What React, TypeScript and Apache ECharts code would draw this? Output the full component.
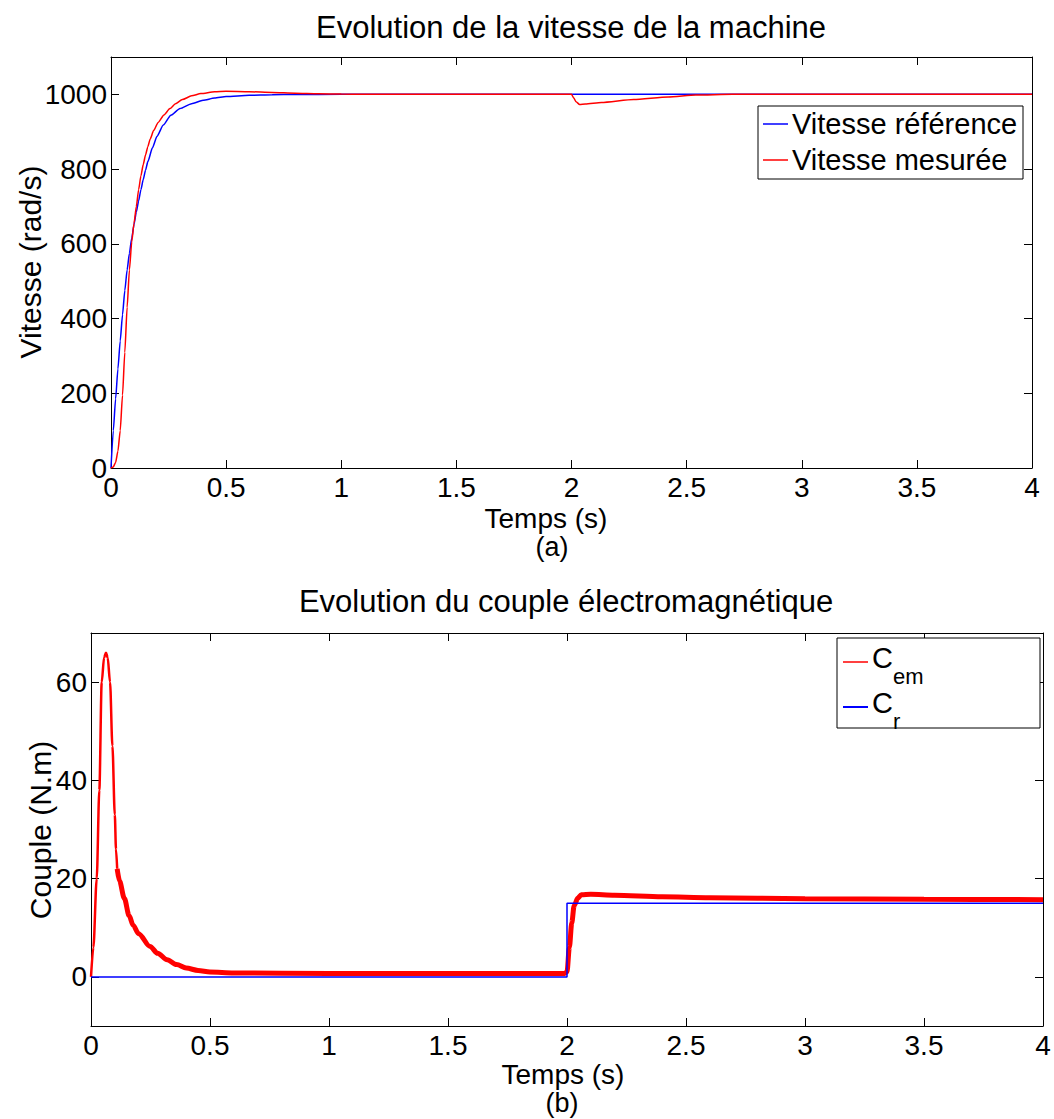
import React, { useEffect, useRef } from "react";
import * as echarts from "echarts";

const FONT = '"Liberation Sans", Arial, Helvetica, sans-serif';

// ---- (a) speed ----
const refTime = [0, 0.01, 0.02, 0.03, 0.04, 0.05, 0.06, 0.07, 0.08, 0.09, 0.1, 0.11, 0.12, 0.13, 0.14, 0.15, 0.16, 0.18, 0.2, 0.227, 0.26, 0.3, 0.35, 0.4, 0.45, 0.5, 0.6, 0.7, 0.8, 1.0, 4.0];
const refSpeed = [0, 100, 185, 265, 340, 410, 475, 530, 575, 615, 652, 685, 715, 745, 772, 797, 820, 857, 888, 918, 944, 962, 975, 984, 990, 994, 997.5, 999, 999.7, 1000, 1000];

const measTime = [0, 0.01, 0.02, 0.03, 0.04, 0.05, 0.06, 0.07, 0.08, 0.09, 0.1, 0.11, 0.12, 0.13, 0.14, 0.15, 0.16, 0.17, 0.185, 0.205, 0.23, 0.256, 0.28, 0.31, 0.35, 0.39, 0.45, 0.5, 0.6, 0.7, 0.8, 0.9, 1.0, 1.1, 1.2, 2.0, 2.01, 2.02, 2.035, 2.06, 2.13, 2.27, 2.42, 2.54, 2.7, 4.0];
const measSpeed = [0, 3, 15, 45, 100, 195, 310, 430, 530, 605, 655, 700, 745, 782, 812, 838, 860, 880, 903, 925, 945, 962, 975, 986, 996, 1002, 1007, 1008, 1007, 1005, 1003, 1001.5, 1000.7, 1000.2, 1000, 1000, 990, 980, 973, 974, 978, 986, 993, 998, 1000, 1000];

// ---- (b) torque ----
const cemTime = [0, 0.01, 0.024, 0.035, 0.045, 0.055, 0.063, 0.07, 0.08, 0.09, 0.1, 0.105, 0.11, 0.12, 0.14, 0.16, 0.177, 0.2, 0.248, 0.28, 0.32, 0.36, 0.4, 0.45, 0.5, 0.6, 1.0, 1.5, 1.99, 2.0, 2.01, 2.02, 2.03, 2.045, 2.06, 2.1, 2.2, 2.4, 2.6, 3.0, 3.5, 4.0];
const cemValue = [0, 6, 20, 38, 60, 65, 66, 65, 60, 47, 33, 26, 22, 19.5, 16, 12.5, 10.5, 8.8, 6.2, 4.8, 3.5, 2.5, 1.8, 1.3, 1.0, 0.8, 0.7, 0.7, 0.7, 1, 6, 11, 14.5, 16, 16.7, 16.8, 16.6, 16.3, 16.1, 15.9, 15.8, 15.7];
// time from which the measured torque shows its wide ripple band
const rippleFrom = 0.11;

const crTime = [0, 2, 2, 4];
const crValue = [0, 0, 15, 15];

const xTicks = [0, 0.5, 1, 1.5, 2, 2.5, 3, 3.5, 4];
const speedTicks = [0, 200, 400, 600, 800, 1000];
const torqueTicks = [0, 20, 40, 60];

const zip = (a: number[], b: number[]) => a.map((v, i) => [v, b[i]]);

const BLUE = "#0000ff";
const RED = "#ff0000";

function axisBase() {
  return {
    axisLine: { show: true, onZero: false, lineStyle: { color: "#000", width: 1 } },
    axisTick: { show: true, inside: true, length: 8, lineStyle: { color: "#000", width: 1 } },
    splitLine: { show: false },
    axisLabel: { color: "#000", fontSize: 28, fontFamily: FONT, formatter: (v: number) => String(v) },
  };
}

function xAx(grid: number, pos: "bottom" | "top") {
  const b = axisBase();
  return {
    type: "value",
    gridIndex: grid,
    position: pos,
    min: 0,
    max: 4,
    interval: 0.5,
    ...b,
    axisTick: { ...b.axisTick, customValues: xTicks },
    axisLabel: { ...b.axisLabel, show: pos === "bottom", margin: 5, customValues: xTicks },
  };
}

function yAx(grid: number, pos: "left" | "right", min: number, max: number, interval: number, ticks: number[]) {
  const b = axisBase();
  return {
    type: "value",
    gridIndex: grid,
    position: pos,
    min,
    max,
    interval,
    ...b,
    axisTick: { ...b.axisTick, customValues: ticks },
    axisLabel: { ...b.axisLabel, show: pos === "left", margin: 4, customValues: ticks },
  };
}

function txt(text: string, x: number, y: number, size = 31, extra: any = {}) {
  return {
    type: "text",
    x,
    y,
    z: 20,
    ...extra,
    style: {
      text,
      fontSize: size,
      fontFamily: FONT,
      fill: "#000",
      align: extra.align || "center",
      verticalAlign: "middle",
    },
  };
}

function seg(x1: number, y1: number, x2: number, y2: number, color: string, w = 1.5) {
  return { type: "line", z: 21, shape: { x1, y1, x2, y2 }, style: { stroke: color, lineWidth: w } };
}

export default function App() {
  const ref = useRef<HTMLDivElement>(null);
  useEffect(() => {
    if (!ref.current) return;
    const chart = echarts.init(ref.current, undefined, { renderer: "svg" });
    const cemAll = zip(cemTime, cemValue);
    const cemStart = cemAll.filter((p) => p[0] <= rippleFrom + 1e-9);
    const cemRipple = cemAll.filter((p) => p[0] >= rippleFrom - 1e-9);
    const option: any = {
      animation: false,
      backgroundColor: "#fff",
      grid: [
        { left: 111, right: 22, top: 57, height: 411 },
        { left: 91, right: 11, top: 633, height: 393 },
      ],
      xAxis: [xAx(0, "bottom"), xAx(0, "top"), xAx(1, "bottom"), xAx(1, "top")],
      yAxis: [
        yAx(0, "left", 0, 1100, 100, speedTicks),
        yAx(0, "right", 0, 1100, 100, speedTicks),
        yAx(1, "left", -10, 70, 10, torqueTicks),
        yAx(1, "right", -10, 70, 10, torqueTicks),
      ],
      series: [
        {
          name: "Vitesse référence",
          type: "line",
          xAxisIndex: 0,
          yAxisIndex: 0,
          data: zip(refTime, refSpeed),
          showSymbol: false,
          symbol: "none",
          smooth: 0.2,
          smoothMonotone: "x",
          lineStyle: { color: BLUE, width: 1.5 },
          z: 3,
        },
        {
          name: "Vitesse mesurée",
          type: "line",
          xAxisIndex: 0,
          yAxisIndex: 0,
          data: zip(measTime, measSpeed),
          showSymbol: false,
          symbol: "none",
          smooth: 0.2,
          smoothMonotone: "x",
          lineStyle: { color: RED, width: 1.5 },
          z: 4,
        },
        {
          name: "Cem",
          type: "line",
          xAxisIndex: 2,
          yAxisIndex: 2,
          data: cemStart,
          showSymbol: false,
          symbol: "none",
          smooth: 0.3,
          smoothMonotone: "x",
          lineStyle: { color: RED, width: 2.5 },
          z: 3,
        },
        {
          name: "Cem ripple",
          type: "line",
          xAxisIndex: 2,
          yAxisIndex: 2,
          data: cemRipple,
          showSymbol: false,
          symbol: "none",
          smooth: 0.3,
          smoothMonotone: "x",
          lineStyle: { color: RED, width: 5 },
          z: 3,
        },
        {
          name: "Cr",
          type: "line",
          xAxisIndex: 2,
          yAxisIndex: 2,
          data: zip(crTime, crValue),
          showSymbol: false,
          symbol: "none",
          lineStyle: { color: BLUE, width: 1.5 },
          z: 4,
        },
      ],
      graphic: [
        txt("Evolution de la vitesse de la machine", 571, 27),
        txt("Temps (s)", 546, 518, 28),
        txt("(a)", 552, 547, 27),
        txt("Vitesse (rad/s)", 30, 262, 30, { rotation: Math.PI / 2 }),
        txt("Evolution du couple électromagnétique", 566, 601),
        txt("Temps (s)", 563, 1074, 28),
        txt("(b)", 562, 1103, 27),
        txt("Couple (N.m)", 40, 830, 30, { rotation: Math.PI / 2 }),
        // legend (a)
        { type: "rect", z: 19, shape: { x: 758, y: 106, width: 265, height: 73 }, style: { fill: "#fff", stroke: "#000", lineWidth: 1 } },
        seg(763, 124, 788, 124, BLUE),
        txt("Vitesse référence", 792, 124, 29, { align: "left" }),
        seg(763, 160, 788, 160, RED),
        txt("Vitesse mesurée", 792, 160, 29, { align: "left" }),
        // legend (b)
        { type: "rect", z: 19, shape: { x: 837, y: 638, width: 203, height: 90 }, style: { fill: "#fff", stroke: "#000", lineWidth: 1 } },
        seg(843, 662, 868, 662, RED),
        txt("C", 872, 658, 29, { align: "left" }),
        txt("em", 893, 676, 22, { align: "left" }),
        seg(843, 707, 868, 707, BLUE, 2),
        txt("C", 872, 703, 29, { align: "left" }),
        txt("r", 893, 721, 22, { align: "left" }),
      ],
    };
    chart.setOption(option);
    return () => chart.dispose();
  }, []);
  return (
    <div
      ref={ref}
      style={{ position: "absolute", left: 0, top: 0, width: 1054, height: 1119, background: "#fff" }}
    />
  );
}
